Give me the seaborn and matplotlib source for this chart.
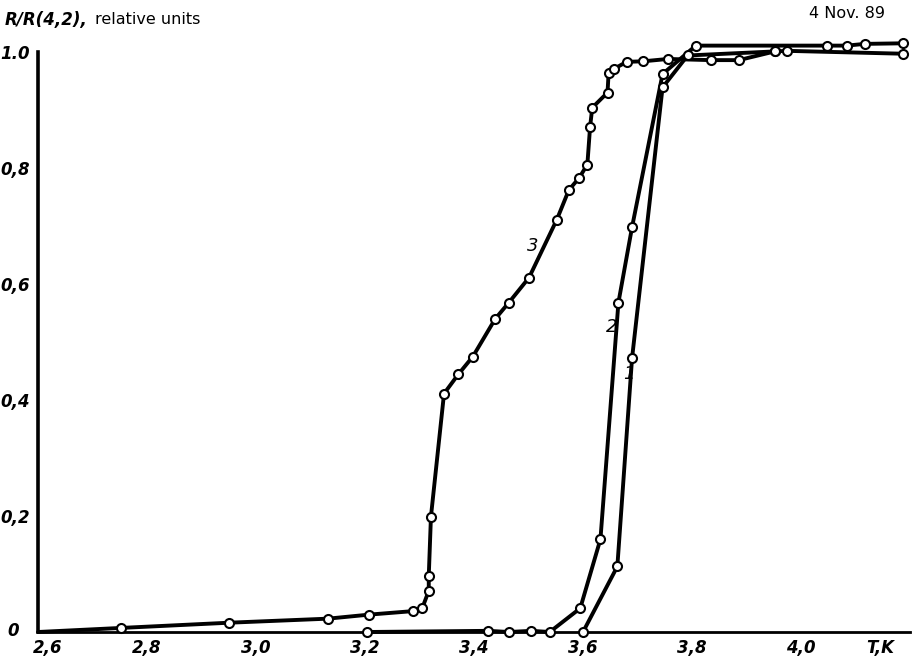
import matplotlib
matplotlib.use("Agg")
import matplotlib.pyplot as plt
import matplotlib.transforms as mtransforms
import seaborn as sns
import pandas as pd

# ---- data ----
t1 = [3.600, 3.663, 3.690, 3.746, 3.792, 3.952, 3.974, 4.188]
r1 = [0.000, 0.113, 0.472, 0.939, 0.994, 1.001, 1.002, 0.997]

t2 = [3.203, 3.426, 3.464, 3.505, 3.539, 3.595, 3.632, 3.665, 3.690, 3.746,
      3.807, 4.048, 4.084, 4.117, 4.188]
r2 = [0.000, 0.002, 0.000, 0.002, 0.000, 0.041, 0.160, 0.568, 0.698, 0.962,
      1.011, 1.011, 1.011, 1.014, 1.015]

t3 = [2.600, 2.752, 2.950, 3.132, 3.208, 3.288, 3.305, 3.317, 3.317, 3.321,
      3.345, 3.371, 3.398, 3.439, 3.464, 3.501, 3.552, 3.574, 3.593, 3.608,
      3.613, 3.617, 3.645, 3.647, 3.657, 3.680, 3.711, 3.756, 3.834, 3.886,
      3.952]
r3 = [0.000, 0.007, 0.016, 0.023, 0.030, 0.036, 0.041, 0.071, 0.097, 0.199,
      0.411, 0.444, 0.475, 0.540, 0.568, 0.611, 0.711, 0.762, 0.783, 0.806,
      0.871, 0.904, 0.930, 0.964, 0.971, 0.983, 0.984, 0.988, 0.986, 0.986,
      1.001]

x_ticks = [2.6, 2.8, 3.0, 3.2, 3.4, 3.6, 3.8, 4.0, 4.2]
x_tick_labels = ["2,6", "2,8", "3,0", "3,2", "3,4", "3,6", "3,8", "4,0", ""]
x_axis_name = "T,K"
y_ticks = [0.0, 0.2, 0.4, 0.6, 0.8, 1.0]
y_tick_labels = ["0", "0,2", "0,4", "0,6", "0,8", "1.0"]

curve_labels = ["1", "2", "3"]
label_pos = [(3.685, 0.445), (3.652, 0.525), (3.507, 0.665)]

# ---- figure ----
sns.set_theme(style="white")
plt.rcParams["font.family"] = ["DejaVu Sans"]
plt.rcParams["text.color"] = "black"

fig = plt.figure(figsize=(9.14, 6.65), dpi=100)
ax = fig.add_axes([38 / 914, 1 - 632 / 665, (910 - 38) / 914, (632 - 52) / 665])

frames = []
for name, t, r in (("1", t1, r1), ("2", t2, r2), ("3", t3, r3)):
    frames.append(pd.DataFrame({"T": t, "R": r, "curve": name}))
df = pd.concat(frames, ignore_index=True)

for name in ["3", "2", "1"]:
    sub = df[df["curve"] == name].reset_index(drop=True)
    mev = list(range(1, len(sub))) if name == "3" else None
    sns.lineplot(data=sub, x="T", y="R", ax=ax, sort=False, estimator=None,
                 color="black", linewidth=2.8, marker="o", markersize=6.5,
                 markerfacecolor="white", markeredgecolor="black",
                 markeredgewidth=1.5, markevery=mev, clip_on=False,
                 legend=False, zorder=3)

ax.set_xlim(2.6, 4.2)
ax.set_ylim(0, 1.0)
ax.set_xlabel("")
ax.set_ylabel("")

for s in ["top", "right"]:
    ax.spines[s].set_visible(False)
ax.spines["left"].set_linewidth(2.6)
ax.spines["bottom"].set_linewidth(2.0)
ax.spines["left"].set_color("black")
ax.spines["bottom"].set_color("black")

ax.set_xticks(x_ticks)
ax.set_xticklabels(x_tick_labels)
ax.set_yticks(y_ticks)
ax.set_yticklabels(y_tick_labels)
ax.tick_params(axis="x", direction="in", length=11, width=1.2, pad=5,
               labelsize=12, colors="black")
ax.tick_params(axis="y", direction="in", length=12, width=1.2, pad=6,
               labelsize=12, colors="black")
for lab in ax.get_xticklabels() + ax.get_yticklabels():
    lab.set_fontstyle("italic")
    lab.set_fontweight("bold")
first = ax.get_xticklabels()[0]
first.set_transform(first.get_transform() +
                    mtransforms.ScaledTranslation(7 / 72, 0, fig.dpi_scale_trans))
zero = ax.get_yticklabels()[0]
zero.set_transform(zero.get_transform() +
                   mtransforms.ScaledTranslation(-8 / 72, 2 / 72, fig.dpi_scale_trans))

ax.text(4.145, -0.012, x_axis_name, fontsize=12, fontstyle="italic",
        fontweight="bold", ha="center", va="top", color="black")

for lab, (tx, ty) in zip(curve_labels, label_pos):
    ax.text(tx, ty, lab, fontsize=13, fontstyle="italic", color="black",
            ha="center", va="center")

fig.text(5 / 914, 1 - 20 / 665, "R/R(4,2),", fontsize=12, fontweight="bold",
         fontstyle="italic", ha="left", va="center", color="black")
fig.text(95 / 914, 1 - 20 / 665, "relative units", fontsize=11.5,
         ha="left", va="center", color="black")
fig.text(885 / 914, 1 - 13 / 665, "4 Nov. 89", fontsize=11.5,
         ha="right", va="center", color="black")

fig.savefig("out.png", dpi=100)
